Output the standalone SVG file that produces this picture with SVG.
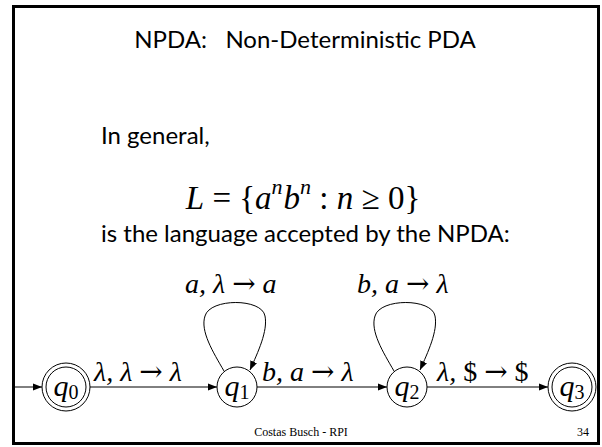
<svg xmlns="http://www.w3.org/2000/svg" width="602" height="447" viewBox="0 0 602 447">
<style>
.sans{font-family:Lato,"Open Sans","DejaVu Sans",sans-serif;fill:#000}
.ser{font-family:"Liberation Serif","Times New Roman",serif;fill:#000}
.it{font-style:italic}
.ar{font-style:normal;font-family:"DejaVu Serif","Liberation Serif",serif}
.lbl{font-size:28px}
.st{fill:#fff;stroke:#000;stroke-width:1}
.ln{fill:none;stroke:#000;stroke-width:1}
</style>
<defs>
<marker id="ah" viewBox="0 0 10 10" refX="10" refY="5" markerWidth="9" markerHeight="9" markerUnits="userSpaceOnUse" orient="auto">
<path d="M0,1 L10,5 L0,9 z" fill="#000"/>
</marker>
</defs>
<rect x="13.5" y="6.5" width="585" height="437" fill="#fff" stroke="#000" stroke-width="3"/>
<text class="sans" x="305" y="48" font-size="24" text-anchor="middle" xml:space="preserve">NPDA:   Non-Deterministic PDA</text>
<text class="sans" x="101" y="144" font-size="24">In general,</text>
<text class="ser" x="303" y="209" font-size="33" text-anchor="middle"><tspan class="it">L</tspan> = {<tspan class="it">a</tspan><tspan class="it" font-size="22" dy="-15">n</tspan><tspan class="it" dy="15" dx="1">b</tspan><tspan class="it" font-size="22" dy="-15">n</tspan><tspan dy="15"> : </tspan><tspan class="it">n</tspan> ≥ 0}</text>
<text class="sans" x="101" y="242" font-size="24">is the language accepted by the NPDA:</text>
<g id="connectors">
<line class="ln" x1="15" y1="387" x2="42" y2="387" marker-end="url(#ah)"/>
<line class="ln" x1="90" y1="387" x2="217" y2="387" marker-end="url(#ah)"/>
<line class="ln" x1="257" y1="387" x2="387" y2="387" marker-end="url(#ah)"/>
<line class="ln" x1="427" y1="387" x2="548" y2="387" marker-end="url(#ah)"/>
<path class="ln" d="M224,371 C213,352 200,331 205,316 C210,298 262,298 265,316 C268,331 258,352 250,370" marker-end="url(#ah)"/>
<path class="ln" d="M394,371 C383,352 370,331 375,316 C380,298 432,298 435,316 C438,331 428,352 420,370" marker-end="url(#ah)"/>
<text class="ser it lbl" x="185" y="293">a, λ <tspan class="ar">→</tspan> a</text>
<text class="ser it lbl" x="357" y="293">b, a <tspan class="ar">→</tspan> λ</text>
<text class="ser it lbl" x="94" y="381">λ, λ <tspan class="ar">→</tspan> λ</text>
<text class="ser it lbl" x="262" y="381">b, a <tspan class="ar">→</tspan> λ</text>
<text class="ser it lbl" x="437" y="381">λ, <tspan font-style="normal">$ <tspan class="ar">→</tspan> $</tspan></text>
</g>
<g id="q0">
<circle class="st" cx="66" cy="387" r="24"/>
<circle class="st" cx="66" cy="387" r="20"/>
<text class="ser" x="66" y="396" font-size="30" text-anchor="middle"><tspan class="it">q</tspan><tspan font-size="20" dy="3">0</tspan></text>
</g>
<g id="q1">
<circle class="st" cx="237" cy="387" r="20"/>
<text class="ser" x="237" y="396" font-size="30" text-anchor="middle"><tspan class="it">q</tspan><tspan font-size="20" dy="3">1</tspan></text>
</g>
<g id="q2">
<circle class="st" cx="407" cy="387" r="20"/>
<text class="ser" x="407" y="396" font-size="30" text-anchor="middle"><tspan class="it">q</tspan><tspan font-size="20" dy="3">2</tspan></text>
</g>
<g id="q3">
<circle class="st" cx="572" cy="387" r="24"/>
<circle class="st" cx="572" cy="387" r="20"/>
<text class="ser" x="572" y="396" font-size="30" text-anchor="middle"><tspan class="it">q</tspan><tspan font-size="20" dy="3">3</tspan></text>
</g>
<text class="ser" x="301" y="436" font-size="12" text-anchor="middle">Costas Busch - RPI</text>
<text class="ser" x="589" y="436" font-size="12" text-anchor="end">34</text>
</svg>
